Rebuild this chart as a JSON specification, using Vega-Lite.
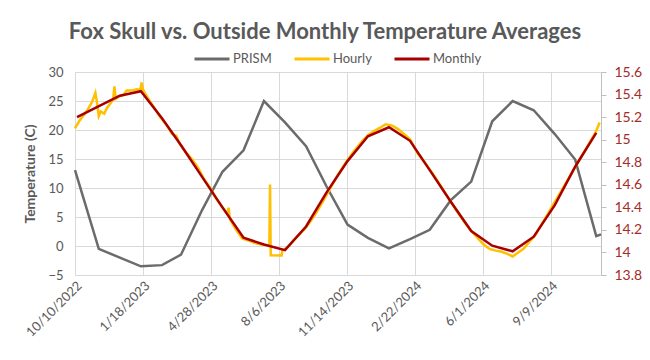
{
  "$schema": "https://vega.github.io/schema/vega-lite/v6.json",
  "width": 526,
  "height": 203,
  "autosize": {"type": "none"},
  "padding": {"left": 75, "top": 72, "right": 49, "bottom": 85},
  "background": "white",
  "title": {"text": "Fox Skull vs. Outside Monthly Temperature Averages", "font": "Lato", "fontSize": 22, "fontWeight": "bold", "color": "#595959", "anchor": "middle", "dx": -13, "offset": -4},
  "config": {
    "view": {"stroke": null},
    "axis": {"labelFont": "Lato", "titleFont": "Lato", "labelColor": "#595959", "titleColor": "#595959", "gridColor": "#d9d9d9", "labelFontSize": 13, "labelOverlap": false},
    "legend": {"labelFont": "Lato", "labelFontSize": 13, "labelColor": "#595959"}
  },
  "datasets": {
    "prism": [
      {"date": "2022-10-10T00:00", "series": "PRISM", "value": 13.1},
      {"date": "2022-11-14T00:00", "series": "PRISM", "value": -0.5},
      {"date": "2022-12-15T00:00", "series": "PRISM", "value": -2.0},
      {"date": "2023-01-15T00:00", "series": "PRISM", "value": -3.5},
      {"date": "2023-02-15T00:00", "series": "PRISM", "value": -3.3},
      {"date": "2023-03-15T00:00", "series": "PRISM", "value": -1.5},
      {"date": "2023-04-15T00:00", "series": "PRISM", "value": 6.2},
      {"date": "2023-05-15T00:00", "series": "PRISM", "value": 12.8},
      {"date": "2023-06-15T00:00", "series": "PRISM", "value": 16.5},
      {"date": "2023-07-15T00:00", "series": "PRISM", "value": 25.0},
      {"date": "2023-08-15T00:00", "series": "PRISM", "value": 21.3},
      {"date": "2023-09-15T00:00", "series": "PRISM", "value": 17.2},
      {"date": "2023-10-15T00:00", "series": "PRISM", "value": 10.3},
      {"date": "2023-11-15T00:00", "series": "PRISM", "value": 3.7},
      {"date": "2023-12-15T00:00", "series": "PRISM", "value": 1.4},
      {"date": "2024-01-15T00:00", "series": "PRISM", "value": -0.4},
      {"date": "2024-02-15T00:00", "series": "PRISM", "value": 1.2},
      {"date": "2024-03-15T00:00", "series": "PRISM", "value": 2.8},
      {"date": "2024-04-15T00:00", "series": "PRISM", "value": 7.9},
      {"date": "2024-05-15T00:00", "series": "PRISM", "value": 11.1},
      {"date": "2024-06-15T00:00", "series": "PRISM", "value": 21.5},
      {"date": "2024-07-15T00:00", "series": "PRISM", "value": 25.0},
      {"date": "2024-08-15T00:00", "series": "PRISM", "value": 23.4},
      {"date": "2024-09-15T00:00", "series": "PRISM", "value": 19.3},
      {"date": "2024-10-15T00:00", "series": "PRISM", "value": 14.9},
      {"date": "2024-11-15T00:00", "series": "PRISM", "value": 1.7},
      {"date": "2024-11-22T00:00", "series": "PRISM", "value": 2.0}
    ],
    "hourly": [
      {"date": "2022-10-10T00:00", "series": "Hourly", "value": 20.3},
      {"date": "2022-10-16T00:00", "series": "Hourly", "value": 21.5},
      {"date": "2022-10-22T00:00", "series": "Hourly", "value": 22.4},
      {"date": "2022-10-29T00:00", "series": "Hourly", "value": 23.6},
      {"date": "2022-11-04T00:00", "series": "Hourly", "value": 24.8},
      {"date": "2022-11-09T00:00", "series": "Hourly", "value": 26.4},
      {"date": "2022-11-11T00:00", "series": "Hourly", "value": 25.0},
      {"date": "2022-11-14T00:00", "series": "Hourly", "value": 22.4},
      {"date": "2022-11-17T00:00", "series": "Hourly", "value": 23.2},
      {"date": "2022-11-22T00:00", "series": "Hourly", "value": 22.8},
      {"date": "2022-11-26T00:00", "series": "Hourly", "value": 23.8},
      {"date": "2022-11-30T00:00", "series": "Hourly", "value": 24.4},
      {"date": "2022-12-05T00:00", "series": "Hourly", "value": 25.2},
      {"date": "2022-12-07T00:00", "series": "Hourly", "value": 27.5},
      {"date": "2022-12-09T00:00", "series": "Hourly", "value": 25.4},
      {"date": "2022-12-14T00:00", "series": "Hourly", "value": 25.8},
      {"date": "2022-12-20T00:00", "series": "Hourly", "value": 26.0},
      {"date": "2022-12-25T00:00", "series": "Hourly", "value": 26.8},
      {"date": "2023-01-02T00:00", "series": "Hourly", "value": 26.8},
      {"date": "2023-01-09T00:00", "series": "Hourly", "value": 27.0},
      {"date": "2023-01-14T00:00", "series": "Hourly", "value": 26.9},
      {"date": "2023-01-16T00:00", "series": "Hourly", "value": 28.2},
      {"date": "2023-01-18T00:00", "series": "Hourly", "value": 27.0},
      {"date": "2023-01-21T00:00", "series": "Hourly", "value": 26.3},
      {"date": "2023-01-28T00:00", "series": "Hourly", "value": 25.0},
      {"date": "2023-02-05T00:00", "series": "Hourly", "value": 23.6},
      {"date": "2023-02-12T00:00", "series": "Hourly", "value": 22.3},
      {"date": "2023-02-21T00:00", "series": "Hourly", "value": 21.0},
      {"date": "2023-03-02T00:00", "series": "Hourly", "value": 19.3},
      {"date": "2023-03-08T00:00", "series": "Hourly", "value": 19.0},
      {"date": "2023-03-13T00:00", "series": "Hourly", "value": 17.6},
      {"date": "2023-03-22T00:00", "series": "Hourly", "value": 16.2},
      {"date": "2023-03-31T00:00", "series": "Hourly", "value": 15.0},
      {"date": "2023-04-09T00:00", "series": "Hourly", "value": 13.5},
      {"date": "2023-04-18T00:00", "series": "Hourly", "value": 11.5},
      {"date": "2023-04-27T00:00", "series": "Hourly", "value": 10.0},
      {"date": "2023-05-05T00:00", "series": "Hourly", "value": 8.3},
      {"date": "2023-05-14T00:00", "series": "Hourly", "value": 6.8},
      {"date": "2023-05-22T00:00", "series": "Hourly", "value": 5.5},
      {"date": "2023-05-24T00:00", "series": "Hourly", "value": 6.6},
      {"date": "2023-05-26T00:00", "series": "Hourly", "value": 4.6},
      {"date": "2023-06-04T00:00", "series": "Hourly", "value": 2.8},
      {"date": "2023-06-13T00:00", "series": "Hourly", "value": 1.3},
      {"date": "2023-06-21T00:00", "series": "Hourly", "value": 1.0},
      {"date": "2023-07-02T00:00", "series": "Hourly", "value": 0.5},
      {"date": "2023-07-12T00:00", "series": "Hourly", "value": 0.2},
      {"date": "2023-07-23T00:00", "series": "Hourly", "value": 0.1},
      {"date": "2023-07-24T00:00", "series": "Hourly", "value": 10.6},
      {"date": "2023-07-25T00:00", "series": "Hourly", "value": -1.6},
      {"date": "2023-08-10T00:00", "series": "Hourly", "value": -1.65},
      {"date": "2023-08-11T00:00", "series": "Hourly", "value": -0.8},
      {"date": "2023-08-19T00:00", "series": "Hourly", "value": -0.2},
      {"date": "2023-08-28T00:00", "series": "Hourly", "value": 1.0},
      {"date": "2023-09-06T00:00", "series": "Hourly", "value": 2.1},
      {"date": "2023-09-15T00:00", "series": "Hourly", "value": 3.2},
      {"date": "2023-09-26T00:00", "series": "Hourly", "value": 5.0},
      {"date": "2023-10-08T00:00", "series": "Hourly", "value": 7.3},
      {"date": "2023-10-20T00:00", "series": "Hourly", "value": 9.8},
      {"date": "2023-11-01T00:00", "series": "Hourly", "value": 12.3},
      {"date": "2023-11-13T00:00", "series": "Hourly", "value": 14.5},
      {"date": "2023-11-24T00:00", "series": "Hourly", "value": 16.3},
      {"date": "2023-12-06T00:00", "series": "Hourly", "value": 18.0},
      {"date": "2023-12-15T00:00", "series": "Hourly", "value": 19.1},
      {"date": "2023-12-24T00:00", "series": "Hourly", "value": 19.8},
      {"date": "2024-01-02T00:00", "series": "Hourly", "value": 20.4},
      {"date": "2024-01-10T00:00", "series": "Hourly", "value": 21.0},
      {"date": "2024-01-19T00:00", "series": "Hourly", "value": 20.8},
      {"date": "2024-01-28T00:00", "series": "Hourly", "value": 20.2},
      {"date": "2024-02-06T00:00", "series": "Hourly", "value": 19.3},
      {"date": "2024-02-15T00:00", "series": "Hourly", "value": 18.4},
      {"date": "2024-02-26T00:00", "series": "Hourly", "value": 16.0},
      {"date": "2024-03-09T00:00", "series": "Hourly", "value": 14.2},
      {"date": "2024-03-21T00:00", "series": "Hourly", "value": 12.2},
      {"date": "2024-04-02T00:00", "series": "Hourly", "value": 10.0},
      {"date": "2024-04-13T00:00", "series": "Hourly", "value": 8.0},
      {"date": "2024-04-25T00:00", "series": "Hourly", "value": 5.8},
      {"date": "2024-05-07T00:00", "series": "Hourly", "value": 3.8},
      {"date": "2024-05-16T00:00", "series": "Hourly", "value": 2.5},
      {"date": "2024-05-25T00:00", "series": "Hourly", "value": 1.3},
      {"date": "2024-06-02T00:00", "series": "Hourly", "value": 0.3},
      {"date": "2024-06-11T00:00", "series": "Hourly", "value": -0.5},
      {"date": "2024-06-20T00:00", "series": "Hourly", "value": -0.8},
      {"date": "2024-06-29T00:00", "series": "Hourly", "value": -1.0},
      {"date": "2024-07-08T00:00", "series": "Hourly", "value": -1.4},
      {"date": "2024-07-15T00:00", "series": "Hourly", "value": -1.8},
      {"date": "2024-07-22T00:00", "series": "Hourly", "value": -1.2},
      {"date": "2024-07-31T00:00", "series": "Hourly", "value": -0.5},
      {"date": "2024-08-09T00:00", "series": "Hourly", "value": 0.8},
      {"date": "2024-08-18T00:00", "series": "Hourly", "value": 2.0},
      {"date": "2024-08-27T00:00", "series": "Hourly", "value": 3.8},
      {"date": "2024-09-05T00:00", "series": "Hourly", "value": 5.6},
      {"date": "2024-09-13T00:00", "series": "Hourly", "value": 7.2},
      {"date": "2024-09-22T00:00", "series": "Hourly", "value": 9.0},
      {"date": "2024-10-01T00:00", "series": "Hourly", "value": 10.8},
      {"date": "2024-10-10T00:00", "series": "Hourly", "value": 12.6},
      {"date": "2024-10-19T00:00", "series": "Hourly", "value": 14.4},
      {"date": "2024-10-28T00:00", "series": "Hourly", "value": 16.2},
      {"date": "2024-11-05T00:00", "series": "Hourly", "value": 17.8},
      {"date": "2024-11-14T00:00", "series": "Hourly", "value": 19.6},
      {"date": "2024-11-20T00:00", "series": "Hourly", "value": 21.3}
    ],
    "monthly": [
      {"date": "2022-10-13T00:00", "series": "Monthly", "value": 15.2},
      {"date": "2022-11-15T00:00", "series": "Monthly", "value": 15.3},
      {"date": "2022-12-15T00:00", "series": "Monthly", "value": 15.39},
      {"date": "2023-01-15T00:00", "series": "Monthly", "value": 15.43},
      {"date": "2023-02-15T00:00", "series": "Monthly", "value": 15.19},
      {"date": "2023-03-15T00:00", "series": "Monthly", "value": 14.95},
      {"date": "2023-04-15T00:00", "series": "Monthly", "value": 14.67},
      {"date": "2023-05-15T00:00", "series": "Monthly", "value": 14.4},
      {"date": "2023-06-15T00:00", "series": "Monthly", "value": 14.13},
      {"date": "2023-07-15T00:00", "series": "Monthly", "value": 14.07},
      {"date": "2023-08-15T00:00", "series": "Monthly", "value": 14.02},
      {"date": "2023-09-15T00:00", "series": "Monthly", "value": 14.23},
      {"date": "2023-10-15T00:00", "series": "Monthly", "value": 14.53},
      {"date": "2023-11-15T00:00", "series": "Monthly", "value": 14.81},
      {"date": "2023-12-15T00:00", "series": "Monthly", "value": 15.03},
      {"date": "2024-01-15T00:00", "series": "Monthly", "value": 15.11},
      {"date": "2024-02-15T00:00", "series": "Monthly", "value": 14.99},
      {"date": "2024-03-15T00:00", "series": "Monthly", "value": 14.73},
      {"date": "2024-04-15T00:00", "series": "Monthly", "value": 14.45},
      {"date": "2024-05-15T00:00", "series": "Monthly", "value": 14.19},
      {"date": "2024-06-15T00:00", "series": "Monthly", "value": 14.06},
      {"date": "2024-07-15T00:00", "series": "Monthly", "value": 14.01},
      {"date": "2024-08-15T00:00", "series": "Monthly", "value": 14.14},
      {"date": "2024-09-15T00:00", "series": "Monthly", "value": 14.42},
      {"date": "2024-10-15T00:00", "series": "Monthly", "value": 14.76},
      {"date": "2024-11-15T00:00", "series": "Monthly", "value": 15.06}
    ]
  },
  "encoding": {
    "x": {"field": "date", "type": "temporal", "scale": {"domain": [{"year": 2022, "month": 10, "date": 10}, {"year": 2024, "month": 11, "date": 22}]}, "axis": {"title": null, "values": [{"year": 2022, "month": 10, "date": 10}, {"year": 2023, "month": 1, "date": 18}, {"year": 2023, "month": 4, "date": 28}, {"year": 2023, "month": 8, "date": 6}, {"year": 2023, "month": 11, "date": 14}, {"year": 2024, "month": 2, "date": 22}, {"year": 2024, "month": 6, "date": 1}, {"year": 2024, "month": 9, "date": 9}], "format": "%-m/%-d/%Y", "labelAngle": -45, "labelAlign": "right", "labelBaseline": "top", "labelPadding": 4, "ticks": false, "domain": false, "grid": true, "labelFontSize": 13, "labelOverlap": false}},
    "color": {"field": "series", "type": "nominal", "scale": {"domain": ["PRISM", "Hourly", "Monthly"], "range": ["#6b6b6b", "#FFC000", "#A80000"]}, "legend": {"title": null, "orient": "none", "direction": "horizontal", "legendX": 118, "legendY": -32, "symbolType": "stroke", "symbolSize": 1225, "symbolStrokeWidth": 3, "columnPadding": 16, "labelOffset": 2}}
  },
  "layer": [
    {
      "encoding": {
        "y": {"field": "value", "type": "quantitative", "scale": {"domain": [-5, 30], "nice": false, "zero": false}, "axis": {"title": "Temperature (C)", "titleFontSize": 14, "titleFontWeight": "bold", "titlePadding": 10, "values": [-5, 0, 5, 10, 15, 20, 25, 30], "ticks": false, "domain": false, "grid": true, "gridColor": "#d9d9d9", "gridWidth": 1, "gridOpacity": 1, "labelPadding": 12, "labelOverlap": false, "labelFlush": false, "labelBound": false}}
      },
      "layer": [
        {"data": {"name": "prism"}, "mark": {"type": "line", "strokeWidth": 2.5}},
        {"data": {"name": "hourly"}, "mark": {"type": "line", "strokeWidth": 2.5}}
      ]
    },
    {
      "data": {"name": "monthly"},
      "mark": {"type": "line", "strokeWidth": 2.5},
      "encoding": {
        "y": {"field": "value", "type": "quantitative", "scale": {"domain": [13.8, 15.6], "nice": false, "zero": false}, "axis": {"title": null, "orient": "right", "values": [13.8, 14, 14.2, 14.4, 14.6, 14.8, 15, 15.2, 15.4, 15.6], "format": ".1~f", "grid": false, "domain": true, "domainColor": "#bfbfbf", "ticks": true, "tickColor": "#bfbfbf", "tickSize": 5, "labelColor": "#A52A2A", "labelFontSize": 14, "labelPadding": 8, "labelOverlap": false, "labelFlush": false}}
      }
    }
  ],
  "resolve": {"scale": {"y": "independent"}}
}
